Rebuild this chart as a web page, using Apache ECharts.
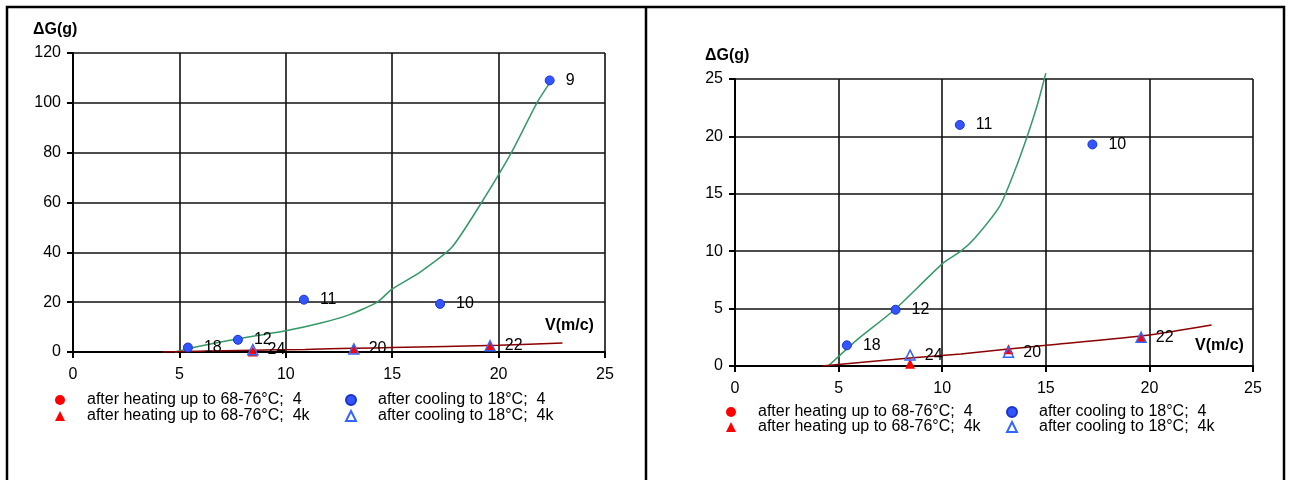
<!DOCTYPE html>
<html>
<head>
<meta charset="utf-8">
<script src="https://cdn.jsdelivr.net/npm/echarts@6/dist/echarts.min.js"></script>
<style>
  html, body { margin: 0; padding: 0; background: #fff; }
  #main { width: 1291px; height: 480px; }
</style>
</head>
<body>
<div id="main"></div>
<script>
// measured points (V in m/c, dG in g)
const heat4V = []
const heat4G = []
const cool4V = [5.4, 7.75, 10.85, 17.25, 22.4]
const cool4G = [1.8, 4.9, 21, 19.3, 109]
const cool4No = ['18', '12', '11', '10', '9']
const heat4kV = [8.45, 13.2, 19.6]
const heat4kG = [0.2, 1.45, 2.45]
const cool4kV = [8.45, 13.2, 19.6]
const cool4kG = [0.95, 1.2, 2.5]
const cool4kNo = ['24', '20', '22']

// trend curves
const greenLeftV = [4.8, 6, 7.7, 10, 11.6, 13, 14.3, 15, 16.3, 17.8, 19.2, 20.6, 21.8, 22.4]
const greenLeftG = [0, 2.4, 5.2, 8.5, 11.5, 15, 20, 25.3, 32, 42, 60, 80, 100, 108]
const greenRightV = [4.5, 5.9, 7.7, 10, 10.9, 11.6, 12.8, 13.5, 14.1, 14.6, 15]
const greenRightG = [0, 2.3, 4.9, 8.9, 10, 11.2, 14, 17, 20, 22.8, 25.5]
const redTrendV = [4.2, 8.45, 10.9, 13.2, 15, 20, 23]
const redTrendG = [0, 0.7, 1.05, 1.48, 1.8, 2.7, 3.57]

const NAMES = {
  heat4: 'after heating up to 68-76°C;  4',
  cool4: 'after cooling to 18°C;  4',
  heat4k: 'after heating up to 68-76°C;  4k',
  cool4k: 'after cooling to 18°C;  4k',
}

const FONT = "'Liberation Sans', Arial, sans-serif"
const FS = 16
const zip = (a, b) => a.map((v, i) => [v, b[i]])

const chart = echarts.init(document.getElementById('main'))

const xAxisFor = (gi) => ({
  type: 'value', gridIndex: gi, min: 0, max: 25, interval: 5,
  axisLine: { lineStyle: { color: '#000', width: 2 } },
  axisTick: { show: true, length: 6, lineStyle: { color: '#000', width: 2 } },
  axisLabel: { color: '#000', fontSize: FS, fontFamily: FONT, margin: 15 },
  splitLine: { show: true, lineStyle: { color: '#111', width: 1.6 } },
})
const yAxisFor = (gi, max, step) => ({
  type: 'value', gridIndex: gi, min: 0, max: max, interval: step,
  axisLine: { show: true, lineStyle: { color: '#000', width: 2 } },
  axisTick: { show: true, length: 6, lineStyle: { color: '#000', width: 2 } },
  axisLabel: { color: '#000', fontSize: FS, fontFamily: FONT, margin: 12 },
  splitLine: { show: true, lineStyle: { color: '#111', width: 1.6 } },
})

const pointSeries = (gi) => [
  {
    name: NAMES.heat4, type: 'scatter', xAxisIndex: gi, yAxisIndex: gi,
    symbol: 'circle', symbolSize: 10, itemStyle: { color: '#ff0000', opacity: 1 },
    data: zip(heat4V, heat4G),
  },
  {
    name: NAMES.cool4, type: 'scatter', xAxisIndex: gi, yAxisIndex: gi, z: 4,
    symbol: 'circle', symbolSize: 9,
    itemStyle: { color: '#3355ff', borderColor: '#1a33cc', borderWidth: 1, opacity: 1 },
    label: {
      show: true, position: 'right', distance: 11, color: '#000',
      fontSize: FS, fontFamily: FONT,
      formatter: (p) => cool4No[p.dataIndex],
    },
    data: zip(cool4V, cool4G),
  },
  {
    name: NAMES.heat4k, type: 'scatter', xAxisIndex: gi, yAxisIndex: gi, z: 4,
    symbol: 'triangle', symbolSize: 10, itemStyle: { color: '#ff0000', opacity: 1 },
    data: zip(heat4kV, heat4kG),
  },
  {
    name: NAMES.cool4k, type: 'scatter', xAxisIndex: gi, yAxisIndex: gi, z: 5,
    symbol: 'triangle', symbolSize: 10,
    itemStyle: { color: 'rgba(255,255,255,0)', borderColor: '#3366ff', borderWidth: 1.5, opacity: 1 },
    label: {
      show: true, position: 'right', distance: 9, color: '#000',
      fontSize: FS, fontFamily: FONT,
      formatter: (p) => cool4kNo[p.dataIndex],
    },
    data: zip(cool4kV, cool4kG),
  },
]

const lineSeries = (gi, gv, gg) => [
  {
    name: 'trend4', type: 'line', xAxisIndex: gi, yAxisIndex: gi, z: 3,
    showSymbol: false, smooth: 0.2, clip: false, silent: true,
    lineStyle: { color: '#339966', width: 1.5 },
    data: zip(gv, gg),
  },
  {
    name: 'trend4k', type: 'line', xAxisIndex: gi, yAxisIndex: gi, z: 3,
    showSymbol: false, smooth: 0.2, silent: true,
    lineStyle: { color: '#8b0000', width: 1.5 },
    data: zip(redTrendV, redTrendG),
  },
]

const legendAt = (name, left, top) => ({
  data: [name], left: left, top: top, orient: 'horizontal',
  itemWidth: 10, itemHeight: 10, selectedMode: false, padding: 0,
  textStyle: { color: '#000', fontSize: FS, fontFamily: FONT, padding: [0, 0, 0, 17] },
})

const titleText = (text, x, y) => ({
  type: 'text', left: x, top: y,
  style: { text: text, fill: '#000', font: 'bold 16px ' + FONT },
})

chart.setOption({
  animation: false,
  grid: [
    { left: 73, top: 53, width: 532, height: 299 },
    { left: 735, top: 79, width: 518, height: 287 },
  ],
  xAxis: [xAxisFor(0), xAxisFor(1)],
  yAxis: [yAxisFor(0, 120, 20), yAxisFor(1, 25, 5)],
  legend: [
    legendAt(NAMES.heat4, 55, 392),
    legendAt(NAMES.cool4, 345, 392),
    legendAt(NAMES.heat4k, 55, 408),
    legendAt(NAMES.cool4k, 345, 408),
    legendAt(NAMES.heat4, 726, 404),
    legendAt(NAMES.cool4, 1006, 404),
    legendAt(NAMES.heat4k, 726, 419),
    legendAt(NAMES.cool4k, 1006, 419),
  ],
  series: [
    ...lineSeries(0, greenLeftV, greenLeftG),
    ...pointSeries(0),
    ...lineSeries(1, greenRightV, greenRightG),
    ...pointSeries(1),
  ],
  graphic: [
    // panel frames
    { type: 'rect', shape: { x: 7, y: 7, width: 1277, height: 500 },
      style: { fill: 'none', stroke: '#000', lineWidth: 2.5 }, silent: true },
    { type: 'line', shape: { x1: 646, y1: 7, x2: 646, y2: 480 },
      style: { stroke: '#000', lineWidth: 2.5 }, silent: true },
    titleText('ΔG(g)', 33, 22),
    titleText('ΔG(g)', 705, 48),
    titleText('V(m/c)', 545, 318),
    titleText('V(m/c)', 1195, 338),
  ],
})
</script>
</body>
</html>
